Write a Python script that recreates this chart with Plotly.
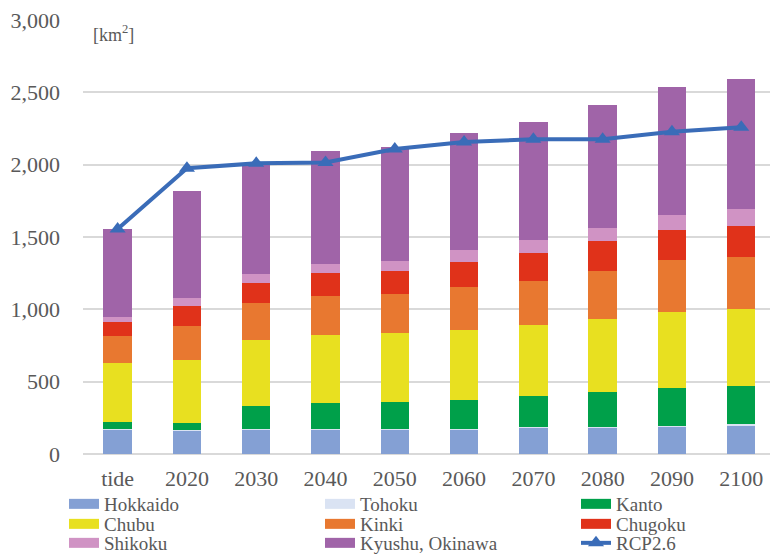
import plotly.graph_objects as go

categories = ["tide", "2020", "2030", "2040", "2050", "2060", "2070", "2080", "2090", "2100"]

hokkaido = [166, 160, 166, 166, 166, 168, 180, 182, 189, 196]
tohoku = [8, 8, 8, 8, 8, 8, 8, 8, 8, 8]
kanto = [49, 49, 160, 181, 188, 195, 213, 239, 261, 268]
chubu = [404, 433, 454, 468, 472, 484, 491, 504, 521, 528]
kinki = [189, 237, 256, 269, 272, 302, 306, 332, 360, 359]
chugoku = [96, 134, 140, 157, 159, 172, 191, 205, 212, 219]
shikoku = [35, 60, 62, 64, 71, 81, 88, 92, 101, 118]
kyushu = [610, 739, 756, 784, 788, 811, 818, 850, 885, 898]
rcp26 = [1555, 1975, 2009, 2015, 2108, 2157, 2175, 2175, 2228, 2258]

series = [
    ("Hokkaido", hokkaido, "#84A0D4", "legend"),
    ("Tohoku", tohoku, "#DAE3F3", "legend"),
    ("Kanto", kanto, "#00A04A", "legend"),
    ("Chubu", chubu, "#E8E020", "legend2"),
    ("Kinki", kinki, "#E87830", "legend2"),
    ("Chugoku", chugoku, "#E0321A", "legend2"),
    ("Shikoku", shikoku, "#D093C4", "legend3"),
    ("Kyushu, Okinawa", kyushu, "#A064A8", "legend3"),
]
line_color = "#3A6CB8"
text_color = "#595959"
font_family = "Liberation Serif"

fig = go.Figure()
for name, vals, color, lg in series:
    fig.add_trace(go.Bar(x=categories, y=vals, name=name, marker=dict(color=color, line=dict(width=0)),
                         showlegend=False))
fig.add_trace(go.Scatter(x=categories, y=rcp26, name="RCP2.6", mode="lines+markers",
                         line=dict(color=line_color, width=4),
                         marker=dict(symbol="triangle-up", size=14, color=line_color),
                         showlegend=False))

# legend entries
for name, vals, color, lg in series:
    fig.add_trace(go.Scatter(x=[None], y=[None], mode="lines", name=name,
                             line=dict(color=color, width=10), legend=lg, showlegend=True))
fig.add_trace(go.Scatter(x=[None], y=[None], mode="lines+markers", name="RCP2.6",
                         line=dict(color=line_color, width=4),
                         marker=dict(symbol="triangle-up", size=14, color=line_color),
                         legend="legend3", showlegend=True))

plot_left, plot_bottom, plot_h, plot_w = 83, 454, 434, 687
legend_common = dict(orientation="h", xref="paper", yref="paper", x=(64 - plot_left) / plot_w,
                     xanchor="left", yanchor="middle", entrywidth=211, entrywidthmode="pixels",
                     traceorder="normal",
                     font=dict(family=font_family, size=19, color=text_color),
                     bgcolor="rgba(0,0,0,0)", borderwidth=0, itemclick=False)

fig.update_layout(
    width=770, height=555,
    margin=dict(l=83, r=0, t=20, b=101, autoexpand=False),
    paper_bgcolor="white", plot_bgcolor="white",
    barmode="stack", bargap=0.59,
    font=dict(family=font_family, color=text_color),
    legend=dict(legend_common, y=(plot_bottom - 504) / plot_h),
    legend2=dict(legend_common, y=(plot_bottom - 524) / plot_h),
    legend3=dict(legend_common, y=(plot_bottom - 543) / plot_h),
    xaxis=dict(type="category", range=[-0.5, 9.415], showline=False, showgrid=False,
               ticks="", ticklabelstandoff=9, automargin=False,
               tickfont=dict(family=font_family, size=22, color=text_color)),
    yaxis=dict(range=[0, 3000], tickvals=[0, 500, 1000, 1500, 2000, 2500, 3000], tickformat=",d",
               showgrid=True, gridcolor="#D9D9D9", gridwidth=1.5, zeroline=True, zerolinecolor="#D9D9D9",
               zerolinewidth=1.5, showline=False, ticks="", ticklabelstandoff=22, automargin=False,
               tickfont=dict(family=font_family, size=22, color=text_color)),
    annotations=[dict(text="[km<sup>2</sup>]", xref="paper", yref="paper", x=0.012, y=0.97,
                      xanchor="left", yanchor="middle", showarrow=False,
                      font=dict(family=font_family, size=18, color=text_color))],
)

fig.write_html("out.html", config={"displayModeBar": False},
               post_script="document.body.style.margin='0';document.body.style.overflow='hidden';")
